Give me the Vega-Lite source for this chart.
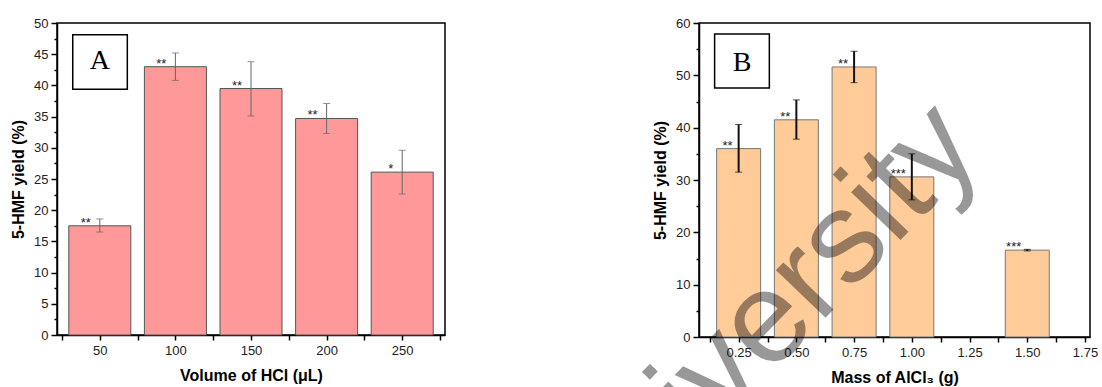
{
  "$schema": "https://vega.github.io/schema/vega-lite/v6.json",
  "padding": {"left": 9, "top": 16, "right": 0, "bottom": 0},
  "bounds": "flush",
  "spacing": 254,
  "config": {
    "view": {"stroke": "#000", "strokeWidth": 1.5},
    "axis": {
      "labelFont": "Liberation Sans", "labelFontSize": 13, "labelColor": "#222",
      "titleFont": "Liberation Sans", "titleFontSize": 16, "titleFontWeight": "bold", "titleColor": "#000",
      "domainColor": "#000", "domainWidth": 1.5, "tickColor": "#000", "tickWidth": 1.5,
      "grid": false, "labelFlush": false, "labelOverlap": false
    },
    "axisX": {"tickSize": 5, "labelPadding": 4, "titlePadding": 10},
    "axisY": {"labelPadding": 3, "titlePadding": 7, "minExtent": 24, "maxExtent": 24}
  },
  "hconcat": [
    {
      "width": 388, "height": 312,
      "data": {"values": [
        {"volume": 50, "yield": 17.5, "lo": 16.5, "hi": 18.6, "sig": "**"},
        {"volume": 100, "yield": 43.0, "lo": 40.8, "hi": 45.2, "sig": "**"},
        {"volume": 150, "yield": 39.5, "lo": 35.1, "hi": 43.8, "sig": "**"},
        {"volume": 200, "yield": 34.7, "lo": 32.3, "hi": 37.1, "sig": "**"},
        {"volume": 250, "yield": 26.1, "lo": 22.6, "hi": 29.6, "sig": "*"}
      ]},
      "layer": [
        {
          "mark": {"type": "bar", "size": 62, "fill": "#FF9999", "stroke": "#555", "strokeWidth": 1},
          "encoding": {
            "x": {"field": "volume", "type": "quantitative",
              "scale": {"domain": [25, 275], "nice": false, "zero": false},
              "axis": {"title": "Volume of HCl (μL)", "labelOverlap": false, "labelFlush": false, "tickCount": 200,
                "values": [25, 50, 75, 100, 125, 150, 175, 200, 225, 250, 275],
                "labelExpr": "datum.value % 50 == 0 ? format(datum.value, 'd') : ''"}},
            "y": {"field": "yield", "type": "quantitative",
              "scale": {"domain": [0, 50], "nice": false},
              "axis": {"title": "5-HMF yield (%)", "labelOverlap": false, "labelFlush": false, "tickCount": 200,
                "values": [0, 2.5, 5, 7.5, 10, 12.5, 15, 17.5, 20, 22.5, 25, 27.5, 30, 32.5, 35, 37.5, 40, 42.5, 45, 47.5, 50],
                "labelExpr": "datum.value % 5 == 0 ? format(datum.value, 'd') : ''",
                "tickSize": {"condition": {"test": "datum.value % 5 == 0", "value": 6}, "value": 3}}}
          }
        },
        {
          "mark": {"type": "errorbar", "color": "#666", "ticks": {"size": 7, "color": "#666"}, "rule": {"strokeWidth": 1}},
          "encoding": {
            "x": {"field": "volume", "type": "quantitative"},
            "y": {"field": "lo", "type": "quantitative", "title": "5-HMF yield (%)"},
            "y2": {"field": "hi"}
          }
        },
        {
          "mark": {"type": "text", "align": "right", "baseline": "alphabetic", "dx": -9, "dy": 1, "font": "Liberation Sans", "fontSize": 13, "color": "#222"},
          "encoding": {
            "x": {"field": "volume", "type": "quantitative"},
            "y": {"field": "yield", "type": "quantitative"},
            "text": {"field": "sig"}
          }
        },
        {
          "data": {"values": [{"label": "A"}]},
          "mark": {"type": "rect", "fill": "white", "stroke": "#000", "strokeWidth": 1.5},
          "encoding": {
            "x": {"datum": 32.1}, "x2": {"datum": 68.2},
            "y": {"datum": 48.1}, "y2": {"datum": 39.4}
          }
        },
        {
          "data": {"values": [{"label": "A"}]},
          "mark": {"type": "text", "font": "Liberation Serif", "fontSize": 28, "baseline": "middle", "align": "center", "color": "#000"},
          "encoding": {
            "x": {"datum": 50.1}, "y": {"datum": 43.9},
            "text": {"field": "label"}
          }
        }
      ]
    },
    {
      "width": 391, "height": 314,
      "data": {"values": [
        {"mass": 0.25, "yield": 36.0, "lo": 31.5, "hi": 40.6, "sig": "**"},
        {"mass": 0.5, "yield": 41.5, "lo": 37.8, "hi": 45.3, "sig": "**"},
        {"mass": 0.75, "yield": 51.6, "lo": 48.6, "hi": 54.6, "sig": "**"},
        {"mass": 1.0, "yield": 30.6, "lo": 26.2, "hi": 35.0, "sig": "***"},
        {"mass": 1.5, "yield": 16.6, "lo": 16.45, "hi": 16.75, "sig": "***"}
      ]},
      "layer": [
        {
          "mark": {"type": "bar", "size": 44, "fill": "#FFCC99", "stroke": "#777", "strokeWidth": 1},
          "encoding": {
            "x": {"field": "mass", "type": "quantitative",
              "scale": {"domain": [0.1, 1.75], "nice": false, "zero": false},
              "axis": {"title": "Mass of AlCl₃ (g)", "labelOverlap": false, "labelFlush": false, "tickCount": 200,
                "values": [0.125, 0.25, 0.375, 0.5, 0.625, 0.75, 0.875, 1.0, 1.125, 1.25, 1.375, 1.5, 1.625, 1.75],
                "labelExpr": "datum.value % 0.25 == 0 ? format(datum.value, '.2f') : ''"}},
            "y": {"field": "yield", "type": "quantitative",
              "scale": {"domain": [0, 60], "nice": false},
              "axis": {"title": "5-HMF yield (%)", "labelOverlap": false, "labelFlush": false, "tickCount": 200,
                "values": [0, 5, 10, 15, 20, 25, 30, 35, 40, 45, 50, 55, 60],
                "labelExpr": "datum.value % 10 == 0 ? format(datum.value, 'd') : ''",
                "tickSize": {"condition": {"test": "datum.value % 10 == 0", "value": 6}, "value": 3}}}
          }
        },
        {
          "mark": {"type": "errorbar", "color": "#111", "ticks": {"size": 7, "color": "#111", "strokeWidth": 2}, "rule": {"strokeWidth": 2}},
          "encoding": {
            "x": {"field": "mass", "type": "quantitative"},
            "y": {"field": "lo", "type": "quantitative", "title": "5-HMF yield (%)"},
            "y2": {"field": "hi"}
          }
        },
        {
          "mark": {"type": "text", "align": "right", "baseline": "alphabetic", "dx": -6, "dy": 1, "font": "Liberation Sans", "fontSize": 13, "color": "#222"},
          "encoding": {
            "x": {"field": "mass", "type": "quantitative"},
            "y": {"field": "yield", "type": "quantitative"},
            "text": {"field": "sig"}
          }
        },
        {
          "data": {"values": [{"label": "B"}]},
          "mark": {"type": "rect", "fill": "white", "stroke": "#000", "strokeWidth": 1.5},
          "encoding": {
            "x": {"datum": 0.146}, "x2": {"datum": 0.383},
            "y": {"datum": 57.9}, "y2": {"datum": 47.6}
          }
        },
        {
          "data": {"values": [{"label": "B"}]},
          "mark": {"type": "text", "font": "Liberation Serif", "fontSize": 28, "baseline": "middle", "align": "center", "color": "#000"},
          "encoding": {
            "x": {"datum": 0.265}, "y": {"datum": 52.4},
            "text": {"field": "label"}
          }
        },
        {
          "data": {"values": [{"mark": "University"}]},
          "mark": {"type": "text", "font": "Liberation Sans", "fontSize": 130, "angle": -46, "align": "center", "baseline": "middle", "color": "#000", "opacity": 0.4},
          "encoding": {
            "x": {"datum": 0.336}, "y": {"datum": 1.15},
            "text": {"field": "mark"}
          }
        }
      ]
    }
  ]
}
